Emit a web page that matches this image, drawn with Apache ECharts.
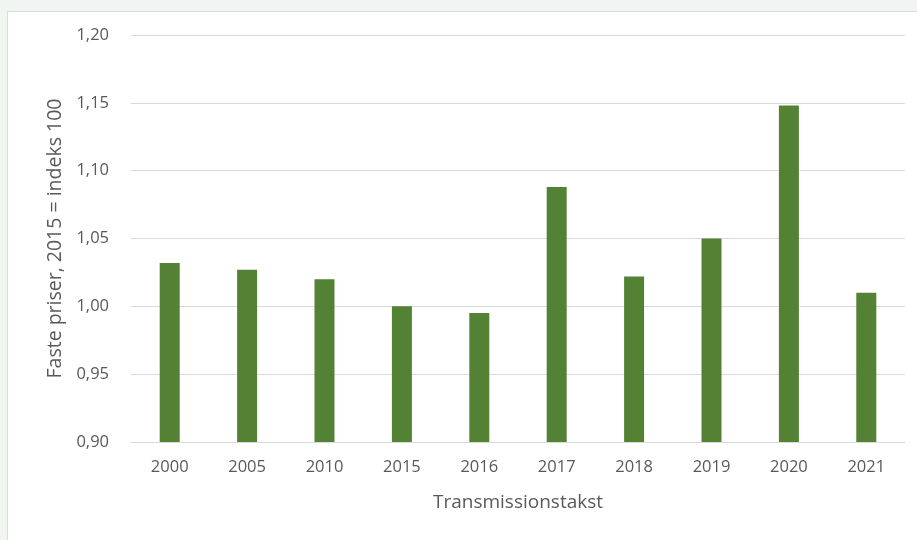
<!DOCTYPE html>
<html>
<head>
<meta charset="utf-8">
<script src="https://cdn.jsdelivr.net/npm/echarts@6/dist/echarts.min.js"></script>
<style>
html,body{margin:0;padding:0;background:#f0f5f2;}
#frame{position:absolute;left:7px;top:11px;width:920px;height:540px;background:#fff;border:1px solid #dcdcdc;box-sizing:border-box;}
#chart{position:absolute;left:0;top:0;width:917px;height:540px;}
</style>
</head>
<body>
<div id="frame"></div>
<div id="chart"></div>
<script>
const categories = ['2000','2005','2010','2015','2016','2017','2018','2019','2020','2021'];
const values = [1.032, 1.027, 1.020, 1.000, 0.995, 1.088, 1.022, 1.050, 1.148, 1.010];
const yMin = 0.90, yMax = 1.20, yStep = 0.05;
const yTitle = 'Faste priser, 2015 = indeks 100';
const xTitle = 'Transmissionstakst';

const font = 'Open Sans';
const chart = echarts.init(document.getElementById('chart'));
chart.setOption({
  animation: false,
  backgroundColor: 'transparent',
  grid: {left: 131, right: 12, top: 35, bottom: 98},
  xAxis: {
    type: 'category',
    data: categories,
    name: xTitle,
    nameLocation: 'middle',
    nameGap: 51,
    nameTextStyle: {color: '#595959', fontSize: 19, fontFamily: font},
    axisLine: {show: true, lineStyle: {color: '#d9d9d9', width: 1}},
    axisTick: {show: false},
    axisLabel: {color: '#595959', fontSize: 16.5, fontFamily: font, margin: 17}
  },
  yAxis: {
    type: 'value',
    min: yMin, max: yMax, interval: yStep,
    name: yTitle,
    nameLocation: 'middle',
    nameGap: 66,
    nameTextStyle: {color: '#595959', fontSize: 19.5, fontFamily: font},
    axisLine: {show: false},
    axisTick: {show: false},
    axisLabel: {color: '#595959', fontSize: 16.5, fontFamily: font, margin: 22,
      formatter: v => v.toFixed(2).replace('.', ',')},
    splitLine: {lineStyle: {color: '#d9d9d9', width: 1}}
  },
  series: [{
    type: 'bar',
    data: values,
    barWidth: 20,
    itemStyle: {color: '#548235'}
  }]
});
</script>
</body>
</html>
